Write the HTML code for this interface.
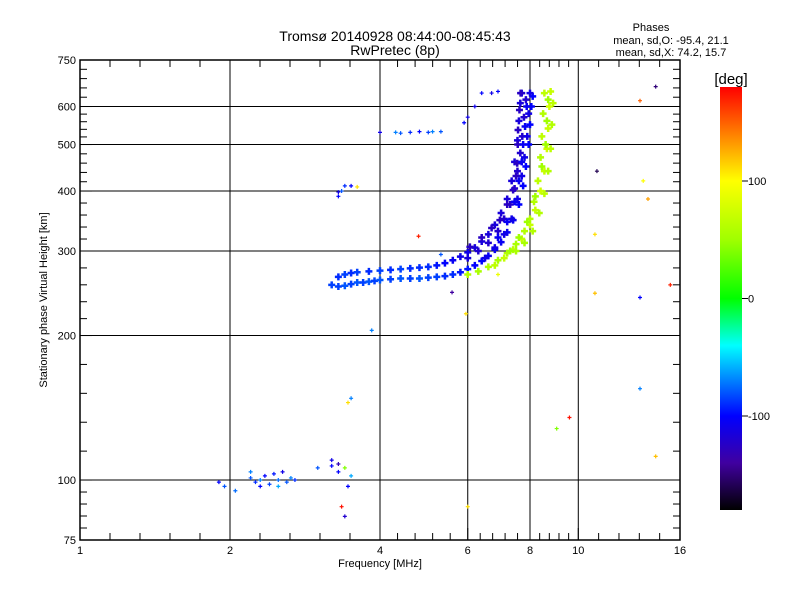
<!DOCTYPE html>
<html><head><meta charset="utf-8"><style>
body{margin:0;background:#fff;}
svg{display:block;font-family:"Liberation Sans",sans-serif;}
</style></head><body>
<svg id="c" width="800" height="600" xmlns="http://www.w3.org/2000/svg">
<defs><linearGradient id="cb" x1="0" y1="1" x2="0" y2="0">
<stop offset="0" stop-color="#000000"/><stop offset="0.111" stop-color="#4000a0"/><stop offset="0.222" stop-color="#0000ff"/><stop offset="0.306" stop-color="#0080ff"/><stop offset="0.389" stop-color="#00ffff"/><stop offset="0.5" stop-color="#00ff00"/><stop offset="0.639" stop-color="#a0ff00"/><stop offset="0.778" stop-color="#ffff00"/><stop offset="0.889" stop-color="#ff8000"/><stop offset="1" stop-color="#ff0000"/></linearGradient></defs>
<text x="395" y="41" font-size="14" text-anchor="middle">Tromsø 20140928 08:44:00-08:45:43</text>
<text x="395" y="55" font-size="14" text-anchor="middle">RwPretec (8p)</text>
<g font-size="11" text-anchor="middle">
<text x="651" y="31">Phases</text>
<text x="671" y="44">mean, sd,O: -95.4, 21.1</text>
<text x="671" y="56">mean, sd,X:  74.2, 15.7</text></g>
<g id="grid"></g><g id="pts"></g>
<rect x="80" y="60" width="600" height="480" fill="none" stroke="#000" stroke-width="1.5"/>
<g id="axes" font-size="11"></g>
<text x="380" y="567" font-size="11" text-anchor="middle">Frequency [MHz]</text>
<text transform="translate(47,300) rotate(-90)" font-size="11" text-anchor="middle">Stationary phase Virtual Height [km]</text>
<text x="731" y="84" font-size="15" text-anchor="middle">[deg]</text>
<rect x="720" y="87" width="22" height="423" fill="url(#cb)"/>
<g id="cbax" font-size="11"></g>
</svg>
<script>
const xTicks=[1,2,4,6,8,10,16];
const yTicks=[75,100,200,300,400,500,600,750];
const yGrid=[100,200,300,400,500,600];
const xGrid=[2,4,6,8,10];
const cbTicks=[100,0,-100];
// traces: [freq, height, phase]
const traceO1=[[3.2,255,-85],[3.3,253,-85],[3.4,254,-80],[3.5,256,-85],[3.6,258,-80],[3.7,258,-85],[3.8,259,-80],[3.9,260,-85],[4.0,261,-80],[4.2,262,-85],[4.4,263,-80],[4.6,263,-85],[4.8,263,-80],[5.0,264,-85],[5.2,265,-85],[5.4,266,-90],[5.6,268,-90],[5.8,271,-95],[6.0,275,-95],[6.2,280,-100],[6.4,286,-100],[6.6,293,-105],[6.8,302,-105],[7.0,313,-105],[7.2,328,-105],[7.4,348,-105],[7.6,375,-100],[7.75,410,-100],[7.85,450,-100],[7.95,500,-100],[8.0,550,-100],[8.05,600,-100],[8.1,630,-100]];
const traceO2=[[3.3,265,-90],[3.4,268,-85],[3.5,270,-90],[3.6,271,-85],[3.8,272,-90],[4.0,273,-85],[4.2,274,-90],[4.4,275,-85],[4.6,276,-90],[4.8,277,-90],[5.0,278,-90],[5.2,280,-95],[5.4,283,-100],[5.6,287,-105],[5.8,292,-110],[6.0,298,-110],[6.2,305,-115],[6.4,314,-115],[6.6,325,-115],[6.8,340,-115],[7.0,360,-115],[7.2,385,-115],[7.35,420,-115],[7.45,460,-115],[7.55,510,-115],[7.6,560,-115],[7.65,610,-115],[7.7,640,-115]];
const traceO3=[[6.0,290,-115],[6.3,300,-120],[6.6,312,-120],[6.9,330,-120],[7.1,350,-120],[7.3,375,-120],[7.45,405,-120],[7.55,440,-120],[7.65,480,-120],[7.72,520,-120],[7.78,570,-120],[7.85,620,-120]];
const traceO4=[[6.5,290,-110],[6.8,305,-110],[7.1,325,-110],[7.35,350,-110],[7.55,385,-110],[7.7,430,-110],[7.8,470,-110],[7.9,520,-110],[7.95,580,-110],[8.0,640,-110]];
const traceO5=[[6.06,306,-125],[6.4,320,-125],[6.7,335,-125],[6.96,348,-125],[7.2,375,-125],[7.4,402,-125],[7.5,430,-125],[7.54,457,-125],[7.56,500,-125],[7.57,536,-125],[7.62,590,-125],[7.66,640,-125]];
const traceO6=[[6.9,320,-105],[7.2,345,-105],[7.45,380,-105],[7.6,420,-105],[7.7,460,-105],[7.75,500,-105],[7.82,545,-105],[7.88,600,-105]];
const traceX1=[[6.0,268,60],[6.3,272,55],[6.6,278,60],[6.9,287,55],[7.2,297,60],[7.5,310,55],[7.8,330,60],[8.0,350,60],[8.15,380,60],[8.3,420,65],[8.4,470,60],[8.45,520,65],[8.5,580,60],[8.55,640,65]];
const traceX2=[[6.8,280,65],[7.1,290,70],[7.4,302,65],[7.7,318,70],[8.0,340,70],[8.2,365,70],[8.4,400,75],[8.55,440,70],[8.65,490,75],[8.7,540,70],[8.75,600,75],[8.8,645,70]];
const traceX3=[[7.5,300,55],[7.8,312,55],[8.1,330,60],[8.35,360,60],[8.55,395,65],[8.7,440,60],[8.8,490,65],[8.85,550,60],[8.9,610,65]];
const traceX4=[[7.3,300,50],[7.6,320,50],[7.9,345,50],[8.2,390,50],[8.45,450,50],[8.6,500,50],[8.65,560,50],[8.7,620,50]];
const scatter=[[1.9,99,-100],[1.95,97,-80],[2.05,95,-75],[2.2,101,-80],[2.25,99,-90],[2.3,100,-70],[2.35,102,-100],[2.4,98,-85],[2.45,103,-95],[2.5,100,-75],[2.55,104,-110],[2.6,99,-80],[2.65,101,-70],[2.7,100,-90],[2.3,97,-100],[2.5,97,-60],[2.2,104,-70],[3.0,106,-80],[3.2,110,-110],[3.3,104,-100],[3.3,108,-130],[3.45,97,-100],[3.5,102,-60],[3.4,106,40],[3.35,88,175],[3.4,84,-120],[3.2,107,-100],
[3.3,390,-100],[3.35,400,-80],[3.4,410,-90],[3.5,410,-100],[3.6,408,110],[3.3,398,-110],[3.5,148,-70],[3.45,145,110],[3.85,205,-70],
[4.0,530,-110],[4.3,530,-70],[4.4,528,-80],[4.6,530,-90],[4.8,532,-100],[5.0,530,-85],[5.1,532,-70],[5.3,532,-80],
[4.78,322,170],[5.58,246,-140],[5.95,222,110],[6.0,88,110],[5.9,555,-100],[6.0,570,-110],[6.2,600,-110],[6.4,640,-100],[6.7,640,-110],[6.9,645,-100],[6.9,268,90],[5.3,295,-80],
[13.3,617,150],[14.3,660,-150],[10.9,440,-160],[13.5,420,100],[10.8,325,110],[13.8,385,130],[10.8,245,120],[13.3,240,-100],[15.3,255,170],[13.3,155,-70],[9.6,135,175],[9.05,128,40],[14.3,112,120]];

const X0=80,X1=680,Y0=540,Y1=60;
function xs(f){return X0+(X1-X0)*Math.log2(f)/4;}
function ys(h){return Y0-(Y0-Y1)*Math.log10(h/75);}
function cbY(p){return 510-(p+180)/360*423;}
const stops=[[-180,[0,0,0]],[-140,[64,0,160]],[-100,[0,0,255]],[-70,[0,128,255]],[-40,[0,255,255]],[0,[0,255,0]],[50,[160,255,0]],[100,[255,255,0]],[140,[255,128,0]],[180,[255,0,0]]];
function col(p){for(let i=1;i<stops.length;i++){if(p<=stops[i][0]){const a=stops[i-1],b=stops[i],t=(p-a[0])/(b[0]-a[0]);return 'rgb('+a[1].map((v,k)=>Math.round(v+(b[1][k]-v)*t)).join(',')+')';}}return 'rgb(255,0,0)';}
const NS='http://www.w3.org/2000/svg';
function mk(t,a,p){const e=document.createElementNS(NS,t);for(const k in a)e.setAttribute(k,a[k]);p.appendChild(e);return e;}
const grid=document.getElementById('grid'),axes=document.getElementById('axes'),pts=document.getElementById('pts'),cbax=document.getElementById('cbax');
xGrid.forEach(v=>{const l=mk('line',{x1:xs(v),x2:xs(v),y1:Y1,y2:Y0,stroke:'#000'},grid);

});
yGrid.forEach(v=>{const l=mk('line',{x1:X0,x2:X1,y1:ys(v),y2:ys(v),stroke:'#000'},grid);

});
for(let i=0;i<xTicks.length-1;i++){const a=xs(xTicks[i]),b=xs(xTicks[i+1]);for(let k=1;k<5;k++){const x=a+(b-a)*k/5;mk('line',{x1:x,x2:x,y1:Y1,y2:Y1+7,stroke:'#000'},axes);mk('line',{x1:x,x2:x,y1:Y0,y2:Y0-7,stroke:'#000'},axes);}}
for(let i=0;i<yTicks.length-1;i++){const a=ys(yTicks[i]),b=ys(yTicks[i+1]);for(let k=1;k<5;k++){const y=a+(b-a)*k/5;mk('line',{x1:X0,x2:X0+7,y1:y,y2:y,stroke:'#000'},axes);mk('line',{x1:X1,x2:X1-7,y1:y,y2:y,stroke:'#000'},axes);}}
xTicks.forEach(v=>{const t=mk('text',{x:xs(v),y:Y0+14,'text-anchor':'middle'},axes);t.textContent=v;


mk('line',{x1:xs(v),x2:xs(v),y1:Y0,y2:Y0-12,stroke:'#000'},axes);});
yTicks.forEach(v=>{const t=mk('text',{x:X0-4,y:ys(v)+4,'text-anchor':'end'},axes);t.textContent=v;


mk('line',{x1:X0,x2:X0+12,y1:ys(v),y2:ys(v),stroke:'#000'},axes);});
cbTicks.forEach(v=>{const y=cbY(v);mk('line',{x1:742,x2:748,y1:y,y2:y,stroke:'#000'},cbax);const t=mk('text',{x:748,y:y+4},cbax);t.textContent=v;

});
function plus(d,s,w,name){const x=xs(d[0]),y=ys(d[1]);const g=mk('path',{d:'M'+(x-s)+' '+y+'h'+(2*s)+'M'+x+' '+(y-s)+'v'+(2*s),stroke:col(d[2]),'stroke-width':w,fill:'none'},pts);

}
[traceO1,traceO2,traceO3,traceO4,traceO5,traceO6].forEach(tr=>tr.forEach(d=>plus(d,3.5,2.5,'o-trace-point')));
[traceX1,traceX2,traceX3,traceX4].forEach(tr=>tr.forEach(d=>plus(d,3.5,2.5,'x-trace-point')));
scatter.forEach(d=>plus(d,2,1.2,'scatter-point'));
</script>
</body></html>
